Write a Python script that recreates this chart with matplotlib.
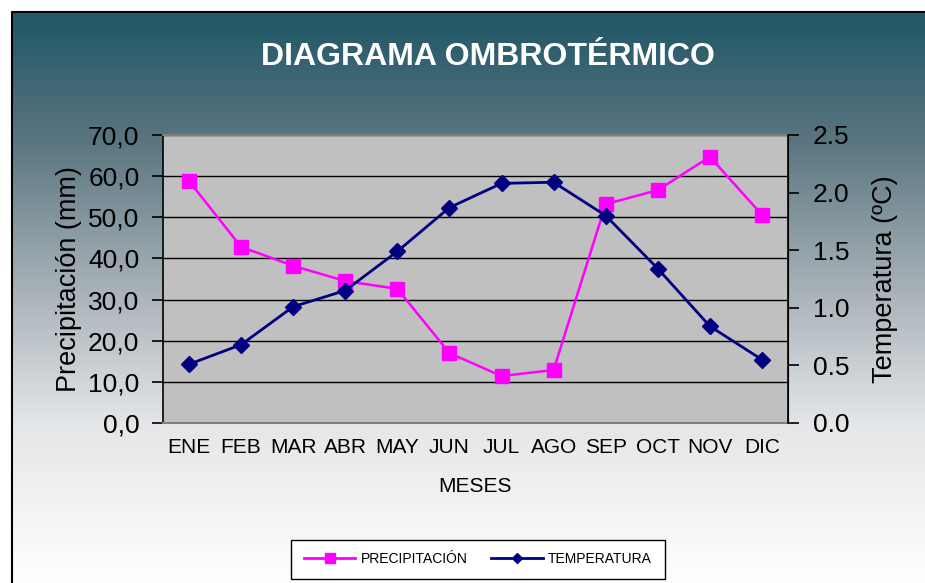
import numpy as np
import matplotlib.pyplot as plt
from matplotlib.lines import Line2D

plt.rcParams['font.family'] = ['Liberation Sans', 'DejaVu Sans']

meses = ['ENE', 'FEB', 'MAR', 'ABR', 'MAY', 'JUN', 'JUL', 'AGO', 'SEP', 'OCT', 'NOV', 'DIC']
precipitacion = [58.8, 42.8, 38.2, 34.5, 32.6, 17.0, 11.4, 12.9, 53.2, 56.6, 64.7, 50.6]
temperatura = [0.51, 0.68, 1.01, 1.15, 1.49, 1.87, 2.08, 2.09, 1.80, 1.34, 0.84, 0.55]

W, H = 925, 583
fig = plt.figure(figsize=(W / 100, H / 100), dpi=100)

# background gradient (teal -> white), framed at top/left
bg = fig.add_axes([0, 0, 1, 1], zorder=-10)
stops_y = np.array([12, 130, 250, 420, 583])
stops_c = np.array([[36, 89, 104], [90, 117, 128], [152, 165, 172], [228, 230, 232], [255, 255, 255]]) / 255
yy = np.arange(H)
grad = np.stack([np.interp(yy, stops_y, stops_c[:, k]) for k in range(3)], axis=1)
img = np.repeat(grad[:, None, :], 2, axis=1)
bg.imshow(img, aspect='auto', extent=[12, W, H, 12], interpolation='bilinear')
bg.plot([12, 12, W], [H, 12, 12], color='black', lw=1.5)
bg.set_xlim(0, W)
bg.set_ylim(H, 0)
bg.axis('off')

ax = fig.add_axes([163 / W, 1 - 423 / H, 625 / W, 288 / H])
ax.set_facecolor('#C0C0C0')
x = np.arange(len(meses))
ax.plot(x, precipitacion, color='#FF00FF', lw=1.8, marker='s', ms=10, label='PRECIPITACIÓN')
ax.set_xlim(-0.5, 11.5)
ax.set_ylim(0, 70)
ax.set_yticks(np.arange(0, 71, 10))
ax.set_yticklabels([f'{v:.1f}'.replace('.', ',') for v in np.arange(0, 71, 10)])
ax.grid(axis='y', color='black', lw=1)
ax.set_axisbelow(True)
ax.set_xticks(x)
ax.set_xticklabels(meses, fontsize=15)
ax.tick_params(axis='x', length=0, pad=11)
ax.tick_params(axis='y', labelsize=19, length=8, direction='out', width=1.2, pad=9)
ax.set_xlabel('MESES', fontsize=15, labelpad=14)
ax.set_ylabel('Precipitación (mm)', fontsize=19.5, labelpad=4)
for s in ['top', 'bottom']:
    ax.spines[s].set_color('#808080')
    ax.spines[s].set_linewidth(1.5)
ax.spines['left'].set_linewidth(1.2)

ax2 = ax.twinx()
ax2.plot(x, temperatura, color='#000080', lw=2, marker='D', ms=8, label='TEMPERATURA')
ax2.set_ylim(0, 2.5)
ax2.set_yticks(np.arange(0, 2.51, 0.5))
ax2.set_yticklabels([f'{v:.1f}' for v in np.arange(0, 2.51, 0.5)])
ax2.tick_params(axis='y', labelsize=19, length=8, direction='out', width=1.2, pad=10)
ax2.set_ylabel('Temperatura (ºC)', fontsize=19.5, labelpad=16)
ax2.spines['right'].set_linewidth(1.2)
for s in ['top', 'bottom', 'left']:
    ax2.spines[s].set_visible(False)

fig.text(488 / W, 1 - 57 / H, 'DIAGRAMA OMBROTÉRMICO', color='white', fontsize=23,
         fontweight='bold', ha='center', va='center')

handles = [Line2D([], [], color='#FF00FF', lw=2, marker='s', ms=7),
           Line2D([], [], color='#000080', lw=2, marker='D', ms=5)]
leg = fig.legend(handles, ['PRECIPITACIÓN', 'TEMPERATURA'], loc='center',
                 bbox_to_anchor=(478 / W, 1 - 559 / H), ncol=2, fontsize=10,
                 frameon=True, fancybox=False, edgecolor='black', framealpha=1,
                 handlelength=3.7, handletextpad=0.4, columnspacing=1.7, borderpad=0.9,
                 borderaxespad=0)
leg.get_frame().set_linewidth(1)

fig.savefig('out.png', dpi=100)
